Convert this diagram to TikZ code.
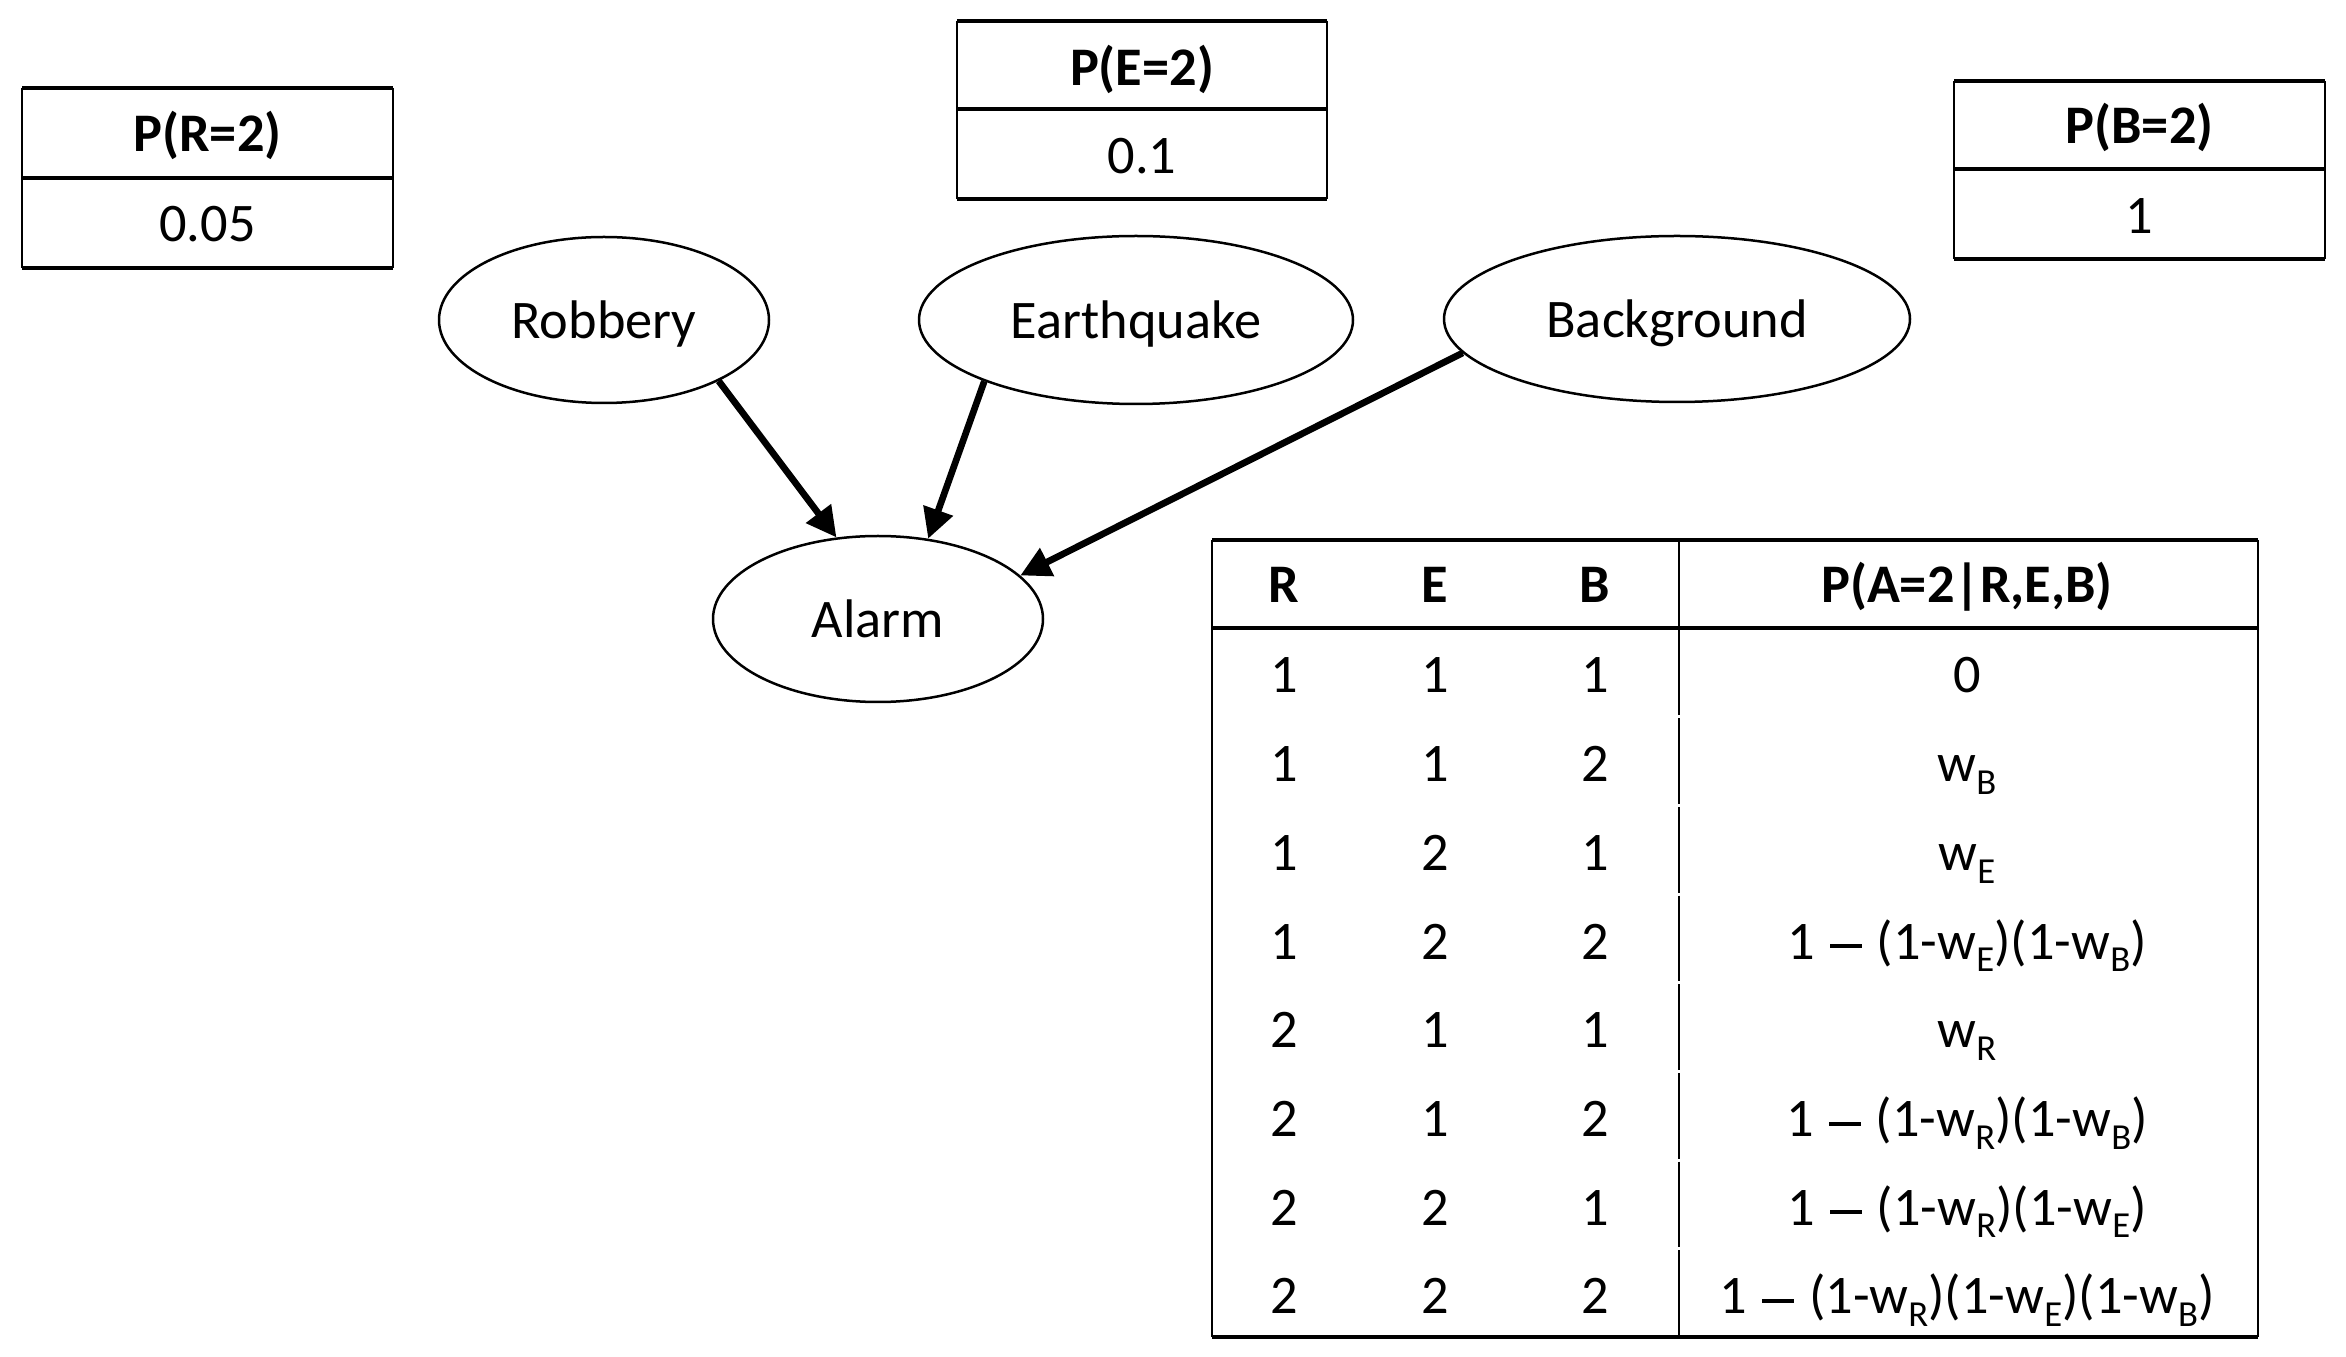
\documentclass[tikz,border=0pt]{standalone}
\usepackage{fontspec}
\setmainfont{Carlito}
\usetikzlibrary{arrows.meta,shapes.geometric}
\newcommand\sbs[1]{\raisebox{-3.8pt}{\fontsize{11}{12}\selectfont #1}}
\newcommand\bigdash{\hspace{0.28em}\rule[3.3pt]{9.5pt}{1.2pt}\hspace{0.28em}}
\begin{document}
\begin{tikzpicture}[x=0.3pt,y=-0.3pt,
  txt/.style={font=\fontsize{16.3}{19}\selectfont,inner sep=0pt},
  hdr/.style={font=\fontsize{16.3}{19}\selectfont\bfseries,inner sep=0pt},
  ell/.style={draw,ellipse,line width=0.75pt,inner sep=0pt,text depth=0pt,font=\fontsize{16.3}{19}\selectfont},
  edge/.style={line width=2pt,-{Triangle[length=9pt,width=9pt]}},
  hline/.style={line width=1pt},
  vline/.style={line width=0.6pt},
  divline/.style={line width=1.1pt}]
\useasboundingbox (0,0) rectangle (2346,1357);

% small tables
% P(R=2)
\draw[hline] (22,88) -- (393,88);
\draw[hline] (22,268) -- (393,268);
\draw[vline] (22,88) -- (22,268);
\draw[vline] (393,88) -- (393,268);
\draw[divline] (22,178) -- (393,178);
\node[hdr,anchor=base] (pr) at (207.5,152) {P(R=2)};
\node[txt,anchor=base] (prv) at (207.5,242) {0.05};

% P(E=2)
\draw[hline] (957,21) -- (1327,21);
\draw[hline] (957,199) -- (1327,199);
\draw[vline] (957,21) -- (957,199);
\draw[vline] (1327,21) -- (1327,199);
\draw[divline] (957,109) -- (1327,109);
\node[hdr,anchor=base] (pe) at (1142,86) {P(E=2)};
\node[txt,anchor=base] (pev) at (1142,174) {0.1};

% P(B=2)
\draw[hline] (1954,81) -- (2325,81);
\draw[hline] (1954,259) -- (2325,259);
\draw[vline] (1954,81) -- (1954,259);
\draw[vline] (2325,81) -- (2325,259);
\draw[divline] (1954,169) -- (2325,169);
\node[hdr,anchor=base] (pb) at (2139.5,144) {P(B=2)};
\node[txt,anchor=base] (pbv) at (2139.5,234) {1};

% network nodes
\node[ell,minimum width=99pt,minimum height=49.8pt] (rob) at (604,320) {Robbery};
\node[ell,minimum width=130.2pt,minimum height=50.4pt] (eq) at (1136,320) {Earthquake};
\node[ell,minimum width=139.8pt,minimum height=49.8pt] (bg) at (1677,319) {Background};
\node[ell,minimum width=99pt,minimum height=49.8pt] (alarm) at (878,619) {Alarm};

\draw[edge] (rob.-28) -- (alarm.117.6);
\draw[edge] (eq.202) -- (alarm.58.5);
\draw[edge] (bg.189) -- (alarm.17);

% main table
\draw[hline] (1212,540) -- (2258,540);
\draw[hline] (1212,1337) -- (2258,1337);
\draw[vline] (1212,540) -- (1212,1337);
\draw[vline] (2258,540) -- (2258,1337);
\draw[divline] (1212,628) -- (2258,628);
\draw[vline] (1679,540) -- (1679,628);
\foreach \k in {0,...,7}{
  \draw[vline] (1679,{628+88.7*\k+1.5}) -- (1679,{628+88.7*(\k+1)-1.5});
}
\node[hdr,anchor=base] (hR) at (1284,603) {R};
\node[hdr,anchor=base] (hE) at (1435,603) {E};
\node[hdr,anchor=base] (hB) at (1595,603) {B};
\node[hdr,anchor=base] (hP) at (1967,603) {P(A=2|R,E,B)};

\foreach \r/\e/\b/\p [count=\i from 0] in {
  1/1/1/{0},
  1/1/2/{w\sbs{B}},
  1/2/1/{w\sbs{E}},
  1/2/2/{1\bigdash(1-w\sbs{E})(1-w\sbs{B})},
  2/1/1/{w\sbs{R}},
  2/1/2/{1\bigdash(1-w\sbs{R})(1-w\sbs{B})},
  2/2/1/{1\bigdash(1-w\sbs{R})(1-w\sbs{E})},
  2/2/2/{1\bigdash(1-w\sbs{R})(1-w\sbs{E})(1-w\sbs{B})}}{
  \node[txt,anchor=base] (cR\i) at (1284,{693+88.7*\i}) {\r};
  \node[txt,anchor=base] (cE\i) at (1435,{693+88.7*\i}) {\e};
  \node[txt,anchor=base] (cB\i) at (1595,{693+88.7*\i}) {\b};
  \node[txt,anchor=base] (cP\i) at (1967,{693+88.7*\i}) {\p};
}
\end{tikzpicture}
\end{document}
